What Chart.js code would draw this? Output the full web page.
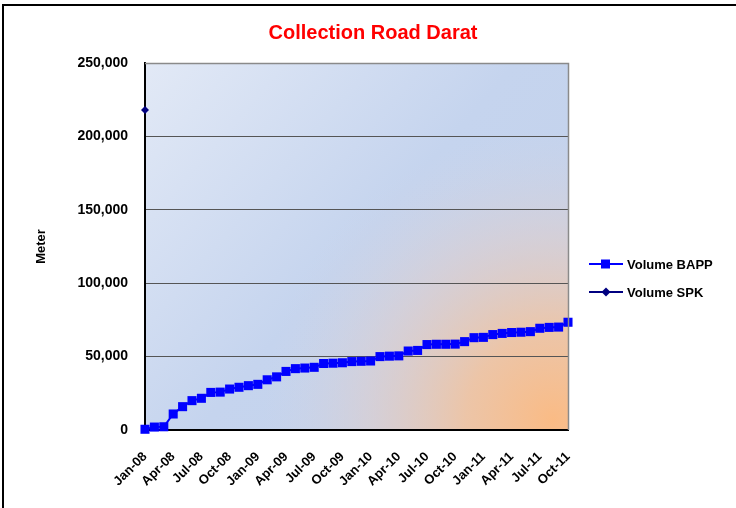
<!DOCTYPE html>
<html>
<head>
<meta charset="utf-8">
<script src="https://cdn.jsdelivr.net/npm/chart.js@4.4.1/dist/chart.umd.min.js"></script>
<style>
    html, body { margin: 0; padding: 0; background: #fff; overflow: hidden; }
    #wrap { position: relative; width: 736px; height: 508px; }
    #frame { position: absolute; left: 2px; top: 4px; width: 800px; height: 600px; border: 2px solid #000; pointer-events: none; }
</style>
</head>
<body>
<div id="wrap">
    <canvas id="roadChart" width="736" height="508"></canvas>
    <div id="frame"></div>
</div>
<script>
// --- DATA ---
const months = [
    'Jan-08', 'Feb-08', 'Mar-08', 'Apr-08', 'May-08', 'Jun-08', 'Jul-08', 'Aug-08', 'Sep-08', 'Oct-08', 'Nov-08', 'Dec-08',
    'Jan-09', 'Feb-09', 'Mar-09', 'Apr-09', 'May-09', 'Jun-09', 'Jul-09', 'Aug-09', 'Sep-09', 'Oct-09', 'Nov-09', 'Dec-09',
    'Jan-10', 'Feb-10', 'Mar-10', 'Apr-10', 'May-10', 'Jun-10', 'Jul-10', 'Aug-10', 'Sep-10', 'Oct-10', 'Nov-10', 'Dec-10',
    'Jan-11', 'Feb-11', 'Mar-11', 'Apr-11', 'May-11', 'Jun-11', 'Jul-11', 'Aug-11', 'Sep-11', 'Oct-11'
];
const tickMonths = ['Jan-08', 'Apr-08', 'Jul-08', 'Oct-08', 'Jan-09', 'Apr-09', 'Jul-09', 'Oct-09',
    'Jan-10', 'Apr-10', 'Jul-10', 'Oct-10', 'Jan-11', 'Apr-11', 'Jul-11', 'Oct-11'];

const volumeBAPP = [
    500, 2000, 2200, 10900, 15900, 20000, 21600, 25600, 25800, 27900, 29100, 30200,
    31100, 34200, 36200, 39900, 41800, 42200, 42700, 45300, 45500, 45800, 46600, 46800,
    47000, 50000, 50300, 50500, 53800, 54200, 58200, 58400, 58400, 58500, 60200, 62900,
    63100, 65000, 65800, 66400, 66600, 67000, 69300, 69900, 70100, 73400
];
const volumeSPK = [218000];

const yTicks = [0, 50000, 100000, 150000, 200000, 250000];

const FONT = 'Arial, "Liberation Sans", sans-serif';

// --- PLOT BACKGROUND (blue wash with orange glow at bottom right) ---
const plotBackground = {
    id: 'plotBackground',
    beforeDraw(chart) {
        const { ctx, chartArea: a } = chart;
        ctx.save();
        const lin = ctx.createLinearGradient(a.left, a.top, a.right, a.bottom);
        lin.addColorStop(0, '#e2e9f6');
        lin.addColorStop(0.5, '#c5d4ee');
        lin.addColorStop(1, '#c3d1ea');
        ctx.fillStyle = lin;
        ctx.fillRect(a.left, a.top, a.right - a.left, a.bottom - a.top);

        const cx = a.right - 15, cy = a.bottom - 10;
        const rad = ctx.createRadialGradient(cx, cy, 0, cx, cy, 290);
        rad.addColorStop(0, 'rgba(250,187,133,1)');
        rad.addColorStop(0.3, 'rgba(242,195,158,0.88)');
        rad.addColorStop(0.65, 'rgba(226,205,200,0.5)');
        rad.addColorStop(1, 'rgba(210,212,228,0)');
        ctx.fillStyle = rad;
        ctx.fillRect(a.left, a.top, a.right - a.left, a.bottom - a.top);
        ctx.restore();
    },
    afterDatasetsDraw(chart) {
        const { ctx, chartArea: a } = chart;
        ctx.save();
        ctx.strokeStyle = '#8a8a8a';
        ctx.lineWidth = 1.5;
        ctx.beginPath();
        ctx.moveTo(a.left, a.top + 0.5);
        ctx.lineTo(a.right + 0.5, a.top + 0.5);
        ctx.lineTo(a.right + 0.5, a.bottom);
        ctx.stroke();
        ctx.restore();
    }
};

// --- LEGEND (line + marker, like the spreadsheet legend) ---
const sideLegend = {
    id: 'sideLegend',
    afterDraw(chart) {
        const { ctx } = chart;
        const rowY = [264, 292];
        ctx.save();
        chart.data.datasets.forEach((ds, i) => {
            const y = rowY[i];
            ctx.strokeStyle = ds.borderColor;
            ctx.lineWidth = 2;
            ctx.beginPath();
            ctx.moveTo(589, y);
            ctx.lineTo(623, y);
            ctx.stroke();
            ctx.fillStyle = ds.pointBackgroundColor;
            if (ds.pointStyle === 'rect') {
                ctx.fillRect(601, y - 4.5, 9, 9);
            } else {
                ctx.beginPath();
                ctx.moveTo(606, y - 4.5);
                ctx.lineTo(610.5, y);
                ctx.lineTo(606, y + 4.5);
                ctx.lineTo(601.5, y);
                ctx.closePath();
                ctx.fill();
            }
            ctx.fillStyle = '#000';
            ctx.font = 'bold 13px ' + FONT;
            ctx.textBaseline = 'middle';
            ctx.fillText(ds.label, 627, y + 1);
        });
        ctx.restore();
    }
};

const ctx = document.getElementById('roadChart').getContext('2d');
const roadChart = new Chart(ctx, {
    type: 'line',
    data: {
        labels: months,
        datasets: [
            {
                label: 'Volume BAPP',
                data: volumeBAPP,
                borderColor: '#0000ff',
                backgroundColor: '#0000ff',
                pointBackgroundColor: '#0000ff',
                pointBorderColor: '#0000ff',
                borderWidth: 2,
                pointStyle: 'rect',
                pointRadius: 6.4,
                pointBorderWidth: 0,
                tension: 0
            },
            {
                label: 'Volume SPK',
                data: volumeSPK,
                borderColor: '#000080',
                backgroundColor: '#000080',
                pointBackgroundColor: '#000080',
                pointBorderColor: '#000080',
                borderWidth: 2,
                pointStyle: 'rectRot',
                pointRadius: 4,
                pointBorderWidth: 0
            }
        ]
    },
    options: {
        responsive: false,
        animation: false,
        clip: false,
        layout: { padding: { left: 10, right: 0, top: 0, bottom: 12 } },
        plugins: {
            legend: { display: false },
            tooltip: { enabled: false },
            title: {
                display: true,
                text: 'Collection Road Darat',
                color: '#ff0000',
                font: { family: FONT, size: 20, weight: 'bold' },
                padding: { top: 21, bottom: 18 }
            }
        },
        scales: {
            x: {
                type: 'category',
                offset: false,
                grid: { display: false, drawTicks: false },
                border: { display: true, color: '#000', width: 2 },
                ticks: {
                    autoSkip: false,
                    maxRotation: 45,
                    minRotation: 45,
                    padding: 19,
                    color: '#000',
                    font: { family: FONT, size: 13, weight: 'bold' },
                    callback: function (value) {
                        const m = this.getLabelForValue(value);
                        return tickMonths.includes(m) ? m : '';
                    }
                },
                afterFit: (scale) => { scale.height = 66; }
            },
            y: {
                min: 0,
                max: 250000,
                afterBuildTicks: (scale) => { scale.ticks = yTicks.map(v => ({ value: v })); },
                grid: { color: '#555', lineWidth: 1, drawTicks: false },
                border: { display: true, color: '#000', width: 2 },
                ticks: {
                    padding: 17,
                    color: '#000',
                    font: { family: FONT, size: 14, weight: 'bold' },
                    callback: (v) => v.toLocaleString('en-US')
                },
                title: {
                    display: true,
                    text: 'Meter',
                    color: '#000',
                    font: { family: FONT, size: 13, weight: 'bold' },
                    padding: { top: 24, bottom: 0 }
                },
                afterFit: (scale) => { scale.width = 135; }
            },
            // empty axis that only reserves the legend column on the right
            legendSpace: {
                type: 'linear',
                position: 'right',
                display: true,
                grid: { display: false, drawTicks: false },
                border: { display: false },
                ticks: { display: false },
                afterFit: (scale) => { scale.width = 168; }
            }
        }
    },
    plugins: [plotBackground, sideLegend]
});
</script>
</body>
</html>
